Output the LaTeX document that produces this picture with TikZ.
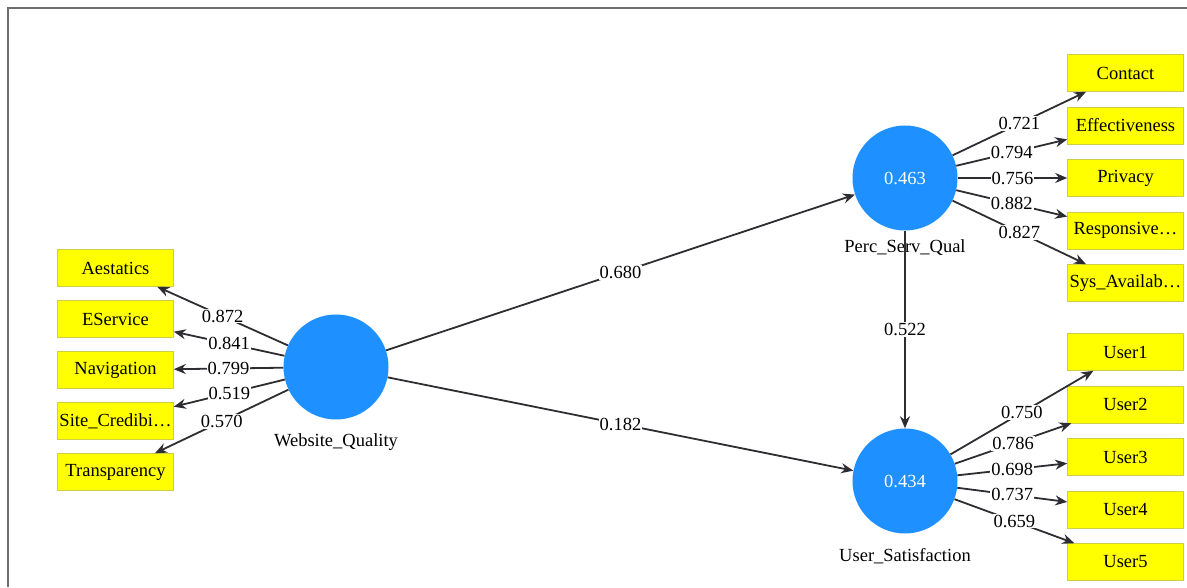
\documentclass[tikz,border=0pt]{standalone}
\usepackage{fontspec}
\setmainfont{Liberation Serif}
\usepackage{tikz}
\usetikzlibrary{
        arrows.meta,
        positioning,
        shapes
    }
\definecolor{latentblue}{RGB}{30,144,255}
\definecolor{linkgray}{RGB}{45,45,50}
\definecolor{framegray}{RGB}{110,110,110}
\definecolor{indyellow}{RGB}{255,255,0}
\definecolor{indedge}{RGB}{205,205,70}
\tikzset{>={Stealth[length=12pt,width=10pt]},node distance=52.5pt}

\begin{document}
\begin{tikzpicture}[x=1pt,y=1pt,font=\fontsize{18.5}{21}\selectfont]
                \tikzstyle{latent}=[circle,fill=latentblue,minimum size=105pt,inner sep=0pt,text=white]
                \tikzstyle{indicator}=[rectangle,fill=indyellow,draw=indedge,line width=0.6pt,minimum width=116pt,minimum height=37pt,inner sep=2pt]
                \tikzstyle{caption}=[inner sep=1pt]
                \tikzstyle{weight}=[fill=white,inner sep=1pt]
                \tikzstyle{link}=[->,draw=linkgray,line width=1.8pt]
                \useasboundingbox (0,0) rectangle (1187,587);
                \draw[framegray,line width=2pt] (8,0) -- (8,579) -- (1187,579);
                % latent variables
                \node[latent] (wq)   at (336,220)  {};
                \node[latent] (psq)  at (905,409)  {0.463};
                \node[latent] (us)   at (905,106)  {0.434};
                \node[caption] (wqlab)  [below of=wq,node distance=75pt]   {Website\_Quality};
                \node[caption] (psqlab) [below of=psq,node distance=70pt]  {Perc\_Serv\_Qual};
                \node[caption] (uslab)  [below of=us,node distance=75pt]   {User\_Satisfaction};
                % indicators
                \begin{scope}[node distance=51pt]
                \node[indicator] (aes)   at (115.5,319)   {Aestatics};
                \node[indicator] (eserv) [below of=aes]   {EService};
                \node[indicator] (nav)   [below of=eserv] {Navigation};
                \node[indicator] (cred)  [below of=nav]   {Site\_Credibi…};
                \node[indicator] (trans) [below of=cred]  {Transparency};
                \end{scope}
                \node[indicator] (cont)  at (1125.5,514)  {Contact};
                \node[indicator] (eff)   [below of=cont]  {Effectiveness};
                \node[indicator] (priv)  [below of=eff]   {Privacy};
                \node[indicator] (resp)  [below of=priv]  {Responsive…};
                \node[indicator] (avail) [below of=resp]  {Sys\_Availab…};
                \node[indicator] (u1)    at (1125.5,235)  {User1};
                \node[indicator] (u2)    [below of=u1]    {User2};
                \node[indicator] (u3)    [below of=u2]    {User3};
                \node[indicator] (u4)    [below of=u3]    {User4};
                \node[indicator] (u5)    [below of=u4]    {User5};
                % paths
                \path[link]
                    (wq)  edge  node[weight] {0.680} (psq)
                    (wq)  edge  node[weight] {0.182} (us)
                    (psq) edge  node[weight] {0.522} (us);
                % loadings
                \path[link]
                    (wq)  edge  node[weight] {0.872} (aes)
                    (wq)  edge  node[weight] {0.841} (eserv)
                    (wq)  edge  node[weight] {0.799} (nav)
                    (wq)  edge  node[weight] {0.519} (cred)
                    (wq)  edge  node[weight] {0.570} (trans)
                    (psq) edge  node[weight] {0.721} (cont)
                    (psq) edge  node[weight] {0.794} (eff)
                    (psq) edge  node[weight] {0.756} (priv)
                    (psq) edge  node[weight] {0.882} (resp)
                    (psq) edge  node[weight] {0.827} (avail)
                    (us)  edge  node[weight] {0.750} (u1)
                    (us)  edge  node[weight] {0.786} (u2)
                    (us)  edge  node[weight] {0.698} (u3)
                    (us)  edge  node[weight] {0.737} (u4)
                    (us)  edge  node[weight] {0.659} (u5);
\end{tikzpicture}
\end{document}
